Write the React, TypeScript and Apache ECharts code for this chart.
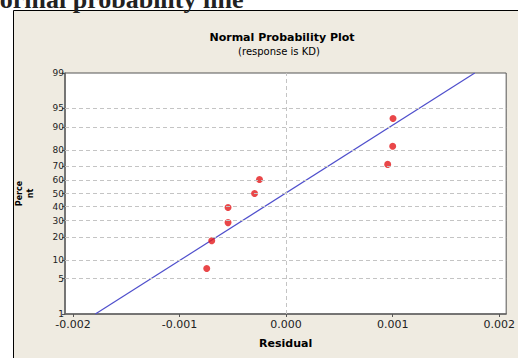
import React, { useEffect, useRef } from "react";
import * as echarts from "echarts";

const pageTitle = "Normal probability line";
const chartTitle = "Normal Probability Plot";
const chartSubtitle = "(response is KD)";
const xName = "Residual";
const yName = "Perce\nnt";

// residuals
const residuals = [-0.000745, -0.000698, -0.000545, -0.000545, -0.000296, -0.00025, 0.000953, 0.001, 0.001003];
// plotted percentiles
const percents = [7.4, 18.1, 28.7, 39.4, 50, 60.6, 71.3, 81.9, 92.6];
// fitted line end points (residual, percent)
const lineResiduals = [-0.00179, 0.00177];
const linePercents = [1, 99];

const yTickPercents = [1, 5, 10, 20, 30, 40, 50, 60, 70, 80, 90, 95, 99];
const yGridPercents = [5, 10, 20, 30, 40, 50, 60, 70, 80, 90, 95];
const xTickValues = [-0.002, -0.001, 0, 0.001, 0.002];
const xGridValues = [-0.002, -0.0015, -0.001, -0.0005, 0, 0.0005, 0.001, 0.0015, 0.002];

// inverse standard normal CDF (probability axis scale)
function probit(p: number): number {
  const a = [-39.69683028665376, 220.9460984245205, -275.9285104469687, 138.357751867269, -30.66479806614716, 2.506628277459239];
  const b = [-54.47609879822406, 161.5858368580409, -155.6989798598866, 66.80131188771972, -13.28068155288572];
  const c = [-0.007784894002430293, -0.3223964580411365, -2.400758277161838, -2.549732539343734, 4.374664141464968, 2.938163982698783];
  const d = [0.007784695709041462, 0.3224671290700398, 2.445134137142996, 3.754408661907416];
  const pl = 0.02425;
  let q: number, r: number;
  if (p < pl) {
    q = Math.sqrt(-2 * Math.log(p));
    return (((((c[0] * q + c[1]) * q + c[2]) * q + c[3]) * q + c[4]) * q + c[5]) / ((((d[0] * q + d[1]) * q + d[2]) * q + d[3]) * q + 1);
  }
  if (p <= 1 - pl) {
    q = p - 0.5;
    r = q * q;
    return ((((((a[0] * r + a[1]) * r + a[2]) * r + a[3]) * r + a[4]) * r + a[5]) * q) / (((((b[0] * r + b[1]) * r + b[2]) * r + b[3]) * r + b[4]) * r + 1);
  }
  q = Math.sqrt(-2 * Math.log(1 - p));
  return -(((((c[0] * q + c[1]) * q + c[2]) * q + c[3]) * q + c[4]) * q + c[5]) / ((((d[0] * q + d[1]) * q + d[2]) * q + d[3]) * q + 1);
}
const z = (pct: number) => probit(pct / 100);

export default function App() {
  const ref = useRef<HTMLDivElement>(null);
  useEffect(() => {
    document.body.style.margin = "0";
    if (!ref.current) return;
    const chart = echarts.init(ref.current, null, { renderer: "svg" });
    const yTickZ = yTickPercents.map(z);
    const zMin = z(1);
    const zMax = z(99);
    const gridLine = { color: "#c4c4c4", type: [4, 3] as any, width: 1 };
    chart.setOption({
      animation: false,
      backgroundColor: "#ffffff",
      graphic: [
        {
          type: "rect",
          shape: { x: 13.5, y: 10.5, width: 520, height: 360 },
          style: { fill: "#efebe1", stroke: "#000000", lineWidth: 1 },
          z: -10,
        },
        {
          type: "text",
          x: -19,
          y: -1,
          style: {
            text: pageTitle,
            font: "bold 26px 'Liberation Serif', 'Times New Roman', serif",
            fill: "#222222",
            verticalAlign: "middle",
          },
          z: 10,
        },
        {
          type: "text",
          x: 282,
          y: 37,
          style: {
            text: chartTitle,
            font: "bold 11px 'DejaVu Sans', sans-serif",
            fill: "#000000",
            align: "center",
            verticalAlign: "middle",
          },
        },
        {
          type: "text",
          x: 279,
          y: 51,
          style: {
            text: chartSubtitle,
            font: "10px 'DejaVu Sans', sans-serif",
            fill: "#000000",
            align: "center",
            verticalAlign: "middle",
          },
        },
      ],
      grid: {
        left: 65,
        top: 73,
        right: 11,
        bottom: 44,
        show: true,
        backgroundColor: "#ffffff",
        borderColor: "#555555",
        borderWidth: 1,
      },
      xAxis: {
        type: "value",
        min: -0.002075,
        max: 0.002065,
        name: xName,
        nameLocation: "middle",
        nameGap: 24,
        nameTextStyle: { fontFamily: "DejaVu Sans", fontWeight: "bold", fontSize: 11, color: "#000" },
        axisLine: { show: true, onZero: false, lineStyle: { color: "#666666", width: 1.5 } },
        axisTick: { show: true, customValues: xTickValues, length: 3, lineStyle: { color: "#555" } },
        axisLabel: {
          customValues: xTickValues,
          formatter: (v: number) => v.toFixed(3),
          fontFamily: "DejaVu Sans",
          fontSize: 11,
          color: "#222",
          margin: 5,
        },
        splitLine: { show: false },
      },
      yAxis: {
        type: "value",
        min: zMin,
        max: zMax,
        name: yName,
        nameLocation: "middle",
        nameRotate: 90,
        nameGap: 29,
        nameTextStyle: { fontFamily: "DejaVu Sans", fontWeight: "bold", fontSize: 8, color: "#000", lineHeight: 11 },
        axisLine: { show: true, onZero: false, lineStyle: { color: "#666666", width: 1.5 } },
        axisTick: { show: true, customValues: yTickZ, length: 3, lineStyle: { color: "#555" } },
        axisLabel: {
          customValues: yTickZ,
          formatter: (v: number) => {
            let best = yTickPercents[0];
            let bd = Infinity;
            yTickPercents.forEach((p) => {
              const dd = Math.abs(z(p) - v);
              if (dd < bd) { bd = dd; best = p; }
            });
            return String(best);
          },
          fontFamily: "DejaVu Sans",
          fontSize: 9,
          color: "#222",
          margin: 1,
        },
        splitLine: { show: false },
      },
      series: [
        {
          type: "line",
          data: [],
          silent: true,
          markLine: {
            silent: true,
            symbol: "none",
            label: { show: false },
            lineStyle: gridLine,
            data: [
              ...xGridValues.map((v) => ({ xAxis: v })),
              ...yGridPercents.map((p) => ({ yAxis: z(p) })),
            ],
          },
        },
        {
          type: "line",
          data: lineResiduals.map((r, i) => [r, z(linePercents[i])]),
          showSymbol: false,
          symbol: "none",
          lineStyle: { color: "#4f4fcc", width: 1.2 },
          z: 3,
        },
        {
          type: "scatter",
          data: residuals.map((r, i) => [r, z(percents[i])]),
          symbolSize: 7,
          itemStyle: { color: "#e3191c" },
          z: 4,
        },
      ],
    });
    return () => chart.dispose();
  }, []);
  return <div ref={ref} style={{ width: 518, height: 358 }} />;
}
